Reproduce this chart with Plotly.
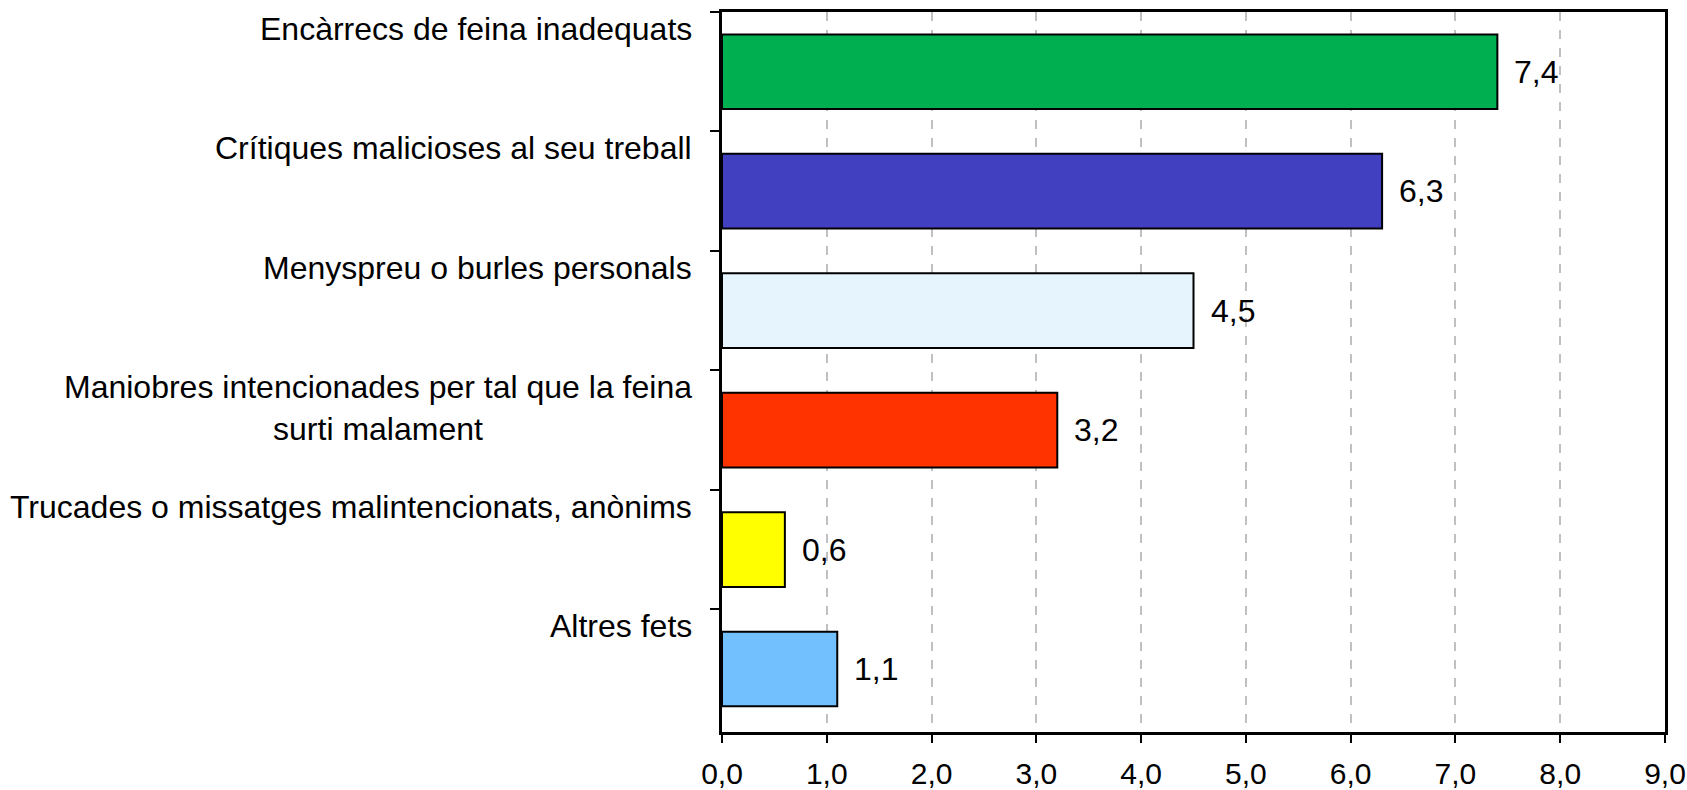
import plotly.graph_objects as go

categories = [
    "Encàrrecs de feina inadequats",
    "Crítiques malicioses al seu treball",
    "Menyspreu o burles personals",
    "Maniobres intencionades per tal que la feina<br>surti malament",
    "Trucades o missatges malintencionats, anònims",
    "Altres fets",
]
values = [7.4, 6.3, 4.5, 3.2, 0.6, 1.1]
colors = ["#00B050", "#4040C0", "#E6F4FD", "#FF3300", "#FFFF00", "#73C0FF"]
x_ticks = [0, 1, 2, 3, 4, 5, 6, 7, 8, 9]

FONT = "Liberation Sans, Arial, sans-serif"

fig = go.Figure()
fig.add_trace(go.Bar(
    y=categories,
    x=values,
    orientation="h",
    marker=dict(color=colors, line=dict(color="black", width=2)),
    hoverinfo="skip",
))

annotations = []
for c, v in zip(categories, values):
    annotations.append(dict(
        x=0, xref="paper", y=c, yref="y",
        text=c, showarrow=False, xanchor="right", yanchor="top",
        xshift=-28, yshift=63, align="center",
        font=dict(family=FONT, size=32, color="black"),
    ))
    annotations.append(dict(
        x=v, xref="x", y=c, yref="y",
        text=f"{v:.1f}".replace(".", ","), showarrow=False,
        xanchor="left", yanchor="middle", xshift=15, yshift=0,
        font=dict(family=FONT, size=32, color="black"),
    ))

fig.update_layout(
    width=1687, height=790,
    margin=dict(l=722, r=22, t=12, b=58, autoexpand=False),
    paper_bgcolor="white", plot_bgcolor="white",
    bargap=0.375,
    showlegend=False,
    separators=",.",
    font=dict(family=FONT, size=30, color="black"),
    annotations=annotations,
)
fig.update_xaxes(
    range=[0, 9], tickvals=x_ticks, tickformat=".1f",
    showgrid=True, gridcolor="#C0C0C0", gridwidth=2, griddash="dash",
    showline=True, linecolor="black", linewidth=3, mirror=True,
    ticks="outside", ticklen=8, tickwidth=1.5, tickcolor="black",
    tickfont=dict(family=FONT, size=30, color="black"),
    ticklabelstandoff=5, ticklabeloverflow="allow",
    zeroline=False, automargin=False,
)
fig.update_yaxes(
    type="category", categoryorder="array", categoryarray=categories,
    autorange="reversed", tickson="boundaries",
    showticklabels=False, showgrid=False, zeroline=False,
    showline=True, linecolor="black", linewidth=3, mirror=True,
    ticks="outside", ticklen=9, tickwidth=1.5, tickcolor="black",
    automargin=False,
)

# remove the page's default body margin so the figure fills the window exactly
fig.write_html(
    "out.html",
    config={"displayModeBar": False},
    post_script="document.body.style.margin='0';document.body.style.overflow='hidden';",
)
